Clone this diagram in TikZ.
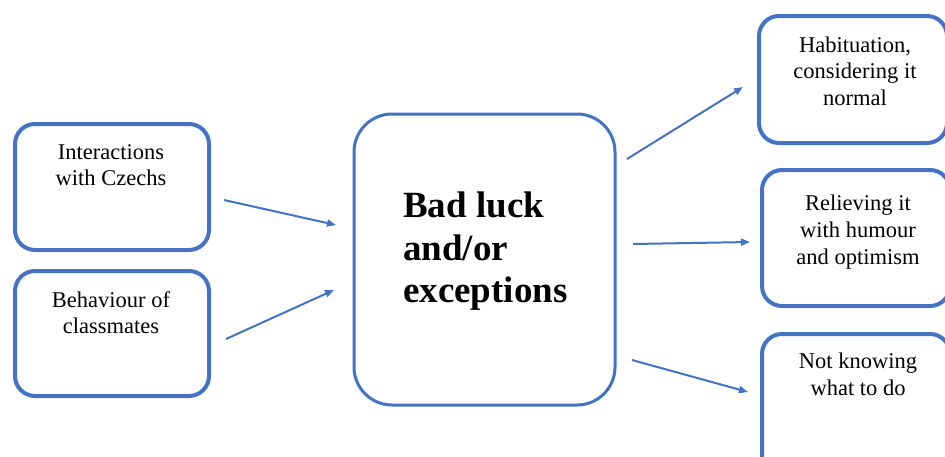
\documentclass[tikz,border=0pt]{standalone}
\usepackage{fontspec}
\setmainfont{Liberation Serif}
\usetikzlibrary{arrows.meta}
\definecolor{boxblue}{HTML}{4472C4}
\tikzset{
  sbox/.style={draw=boxblue, line width=4pt, rounded corners=20pt},
  cbox/.style={draw=boxblue, line width=3pt, rounded corners=38pt},
  lbl/.style={font=\fontsize{22.5}{26.5}\selectfont, align=center, anchor=base, inner sep=0pt},
  conn/.style={draw=boxblue, line width=2pt, -{Triangle[length=9pt,width=7pt]}}
}
\begin{document}
\begin{tikzpicture}[x=1pt,y=-1pt]
\useasboundingbox (0,0) rectangle (945,456);
\clip (0,0) rectangle (945,456);
% left boxes
\draw[sbox] (15,124) rectangle (209,250);
\draw[sbox] (15,271) rectangle (209,396);
% centre box
\draw[cbox] (354,114) rectangle (615,405);
% right boxes
\draw[sbox] (759,16) rectangle (947,143);
\draw[sbox] (762,170) rectangle (950,306);
\draw[sbox] (762,334) rectangle (950,480);
% texts
\node[lbl] (t1) at (111,159) {Interactions};
\node[lbl] (t1b) at (111,185) {with Czechs};
\node[lbl] (t2) at (111,307) {Behaviour of};
\node[lbl] (t2b) at (111,333) {classmates};
\node[font=\fontsize{37}{43}\selectfont\bfseries, anchor=base west, inner sep=0pt] (c1) at (403,217) {Bad luck};
\node[font=\fontsize{37}{43}\selectfont\bfseries, anchor=base west, inner sep=0pt] (c2) at (403,260) {and/or};
\node[font=\fontsize{37}{43}\selectfont\bfseries, anchor=base west, inner sep=0pt] (c3) at (403,302) {exceptions};
\node[lbl] (r1) at (855,52) {Habituation,};
\node[lbl] (r1b) at (855,78) {considering it};
\node[lbl] (r1c) at (855,105) {normal};
\node[lbl] (r2) at (858,210) {Relieving it};
\node[lbl] (r2b) at (858,237) {with humour};
\node[lbl] (r2c) at (858,264) {and optimism};
\node[lbl] (r3) at (858,368) {Not knowing};
\node[lbl] (r3b) at (858,395) {what to do};
% connector endpoints
\coordinate (a1s) at (224,200); \coordinate (a1e) at (336,225);
\coordinate (a2s) at (226,339); \coordinate (a2e) at (334,290);
\coordinate (b1s) at (627,159); \coordinate (b1e) at (743,87);
\coordinate (b2s) at (633,244); \coordinate (b2e) at (750,242);
\coordinate (b3s) at (632,360); \coordinate (b3e) at (748,392);
\draw[conn] (a1s) -- (a1e);
\draw[conn] (a2s) -- (a2e);
\draw[conn] (b1s) -- (b1e);
\draw[conn] (b2s) -- (b2e);
\draw[conn] (b3s) -- (b3e);
\end{tikzpicture}
\end{document}
